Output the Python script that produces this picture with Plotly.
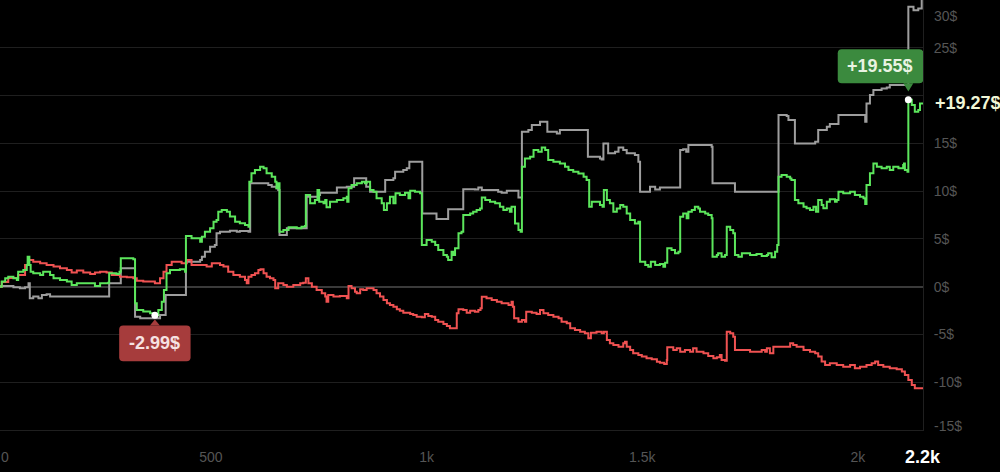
import plotly.graph_objects as go

# ---------------- data ----------------
green_x = [0, 15, 23, 30, 42, 50, 53, 65, 73, 75,
           79, 82, 88, 104, 111, 127, 135, 150, 166, 177,
           189, 231, 243, 262, 264, 281, 288, 291, 320, 324,
           328, 343, 359, 370, 378, 386, 391, 397, 405, 428,
           440, 442, 455, 475, 479, 486, 498, 506, 513, 517,
           525, 537, 544, 556, 567, 579, 587, 589, 594, 602,
           614, 622, 629, 641, 649, 652, 656, 659, 668, 680,
           699, 710, 718, 720, 730, 741, 747, 751, 761, 765,
           768, 776, 792, 807, 815, 816, 819, 826, 838, 850,
           857, 861, 869, 877, 884, 896, 901, 908, 915, 923,
           928, 938, 950, 958, 962, 973, 985, 989, 1000, 1012,
           1020, 1027, 1039, 1047, 1050, 1058, 1062, 1066, 1074, 1081,
           1085, 1101, 1108, 1116, 1124, 1128, 1136, 1147, 1159, 1170,
           1178, 1186, 1193, 1197, 1205, 1213, 1218, 1221, 1228, 1240,
           1248, 1259, 1267, 1275, 1282, 1294, 1309, 1321, 1329, 1340,
           1352, 1364, 1371, 1377, 1383, 1402, 1408, 1411, 1418, 1425,
           1433, 1441, 1449, 1456, 1464, 1472, 1483, 1491, 1495, 1507,
           1514, 1520, 1530, 1541, 1549, 1553, 1558, 1568, 1576, 1584,
           1588, 1595, 1603, 1607, 1615, 1622, 1630, 1634, 1646, 1653,
           1661, 1663, 1673, 1676, 1684, 1692, 1696, 1704, 1711, 1715,
           1723, 1731, 1750, 1765, 1777, 1789, 1792, 1800, 1808, 1813,
           1816, 1823, 1835, 1843, 1846, 1854, 1862, 1874, 1881, 1889,
           1897, 1903, 1908, 1916, 1920, 1928, 1935, 1947, 1951, 1955,
           1966, 1982, 1993, 2005, 2013, 2017, 2020, 2028, 2036, 2044,
           2055, 2067, 2074, 2082, 2094, 2105, 2107, 2109, 2115, 2117,
           2125, 2132, 2140, 2144, 2151]
green_y = [0.0, 0.53, 0.87, 1.05, 0.87, 0.70, 1.57, 1.75, 2.27, 3.14,
           2.27, 1.57, 1.40, 1.22, 1.57, 1.22, 0.87, 0.70, 0.53, 0.18,
           0.35, 0.07, 0.35, 0.42, 1.40, 1.33, 1.57, 2.97, 2.86, -1.74,
           -2.44, -2.61, -2.79, -2.99, -2.44, -1.57, -0.35, 1.40, 1.75, 1.82,
           1.57, 5.30, 5.06, 4.71, 5.23, 5.76, 6.11, 6.80, 6.98, 7.85,
           8.02, 7.85, 7.33, 6.80, 6.63, 6.45, 6.28, 10.99, 11.86, 12.21,
           12.56, 12.38, 11.86, 11.51, 10.99, 10.29, 10.81, 5.76, 5.93, 6.21,
           6.11, 6.28, 6.35, 9.59, 8.72, 9.07, 10.12, 8.89, 8.72, 9.07,
           8.30, 8.89, 9.07, 9.24, 9.42, 8.89, 10.29, 10.64, 10.81, 10.99,
           10.81, 10.99, 10.12, 9.94, 9.24, 8.72, 8.02, 8.72, 9.42, 8.72,
           9.77, 9.59, 9.84, 9.24, 10.05, 9.94, 9.77, 4.36, 4.89, 4.71,
           4.36, 3.84, 3.32, 3.14, 2.79, 3.66, 3.32, 4.01, 5.58, 5.76,
           7.50, 7.67, 7.84, 8.02, 8.19, 9.34, 9.07, 8.89, 8.72, 8.37,
           8.02, 8.19, 7.84, 8.37, 6.62, 5.93, 5.75, 12.55, 13.42, 13.60,
           14.30, 14.12, 14.57, 14.30, 13.25, 13.08, 12.90, 12.55, 12.20, 12.03,
           11.85, 11.51, 11.16, 8.37, 8.89, 8.54, 8.37, 10.11, 9.07, 8.72,
           7.84, 8.19, 8.54, 8.37, 7.67, 6.97, 6.62, 6.80, 2.61, 2.27,
           2.09, 2.61, 2.27, 2.37, 2.09, 2.51, 4.01, 3.84, 3.49, 3.66,
           7.32, 7.67, 7.15, 7.84, 8.02, 8.37, 8.19, 7.85, 7.67, 7.50,
           7.15, 3.14, 3.32, 3.49, 3.14, 3.32, 6.28, 5.93, 5.58, 3.32,
           3.14, 3.49, 3.32, 3.42, 3.21, 3.32, 3.49, 3.07, 3.66, 4.36,
           11.51, 11.68, 11.51, 11.33, 11.16, 9.07, 8.72, 8.37, 8.20, 8.02,
           8.37, 7.85, 9.07, 8.54, 8.20, 8.89, 9.14, 8.89, 9.07, 9.94,
           9.77, 9.94, 9.59, 9.42, 9.24, 8.65, 10.64, 11.86, 12.90, 12.55,
           12.38, 12.55, 12.21, 12.55, 12.38, 12.73, 12.90, 12.21, 12.03, 19.55,
           19.01, 18.31, 18.48, 19.18, 19.27]

gray_x = [0, 42, 57, 69, 77, 80, 88, 100, 108, 119,
          127, 264, 291, 324, 336, 382, 395, 442, 475, 479,
          486, 498, 509, 513, 521, 544, 560, 567, 587, 591,
          633, 641, 652, 656, 659, 676, 722, 749, 753, 792,
          815, 832, 860, 869, 904, 923, 927, 946, 954, 960,
          990, 1023, 1050, 1085, 1112, 1120, 1128, 1166, 1174, 1186,
          1213, 1221, 1236, 1244, 1263, 1280, 1302, 1309, 1374, 1402,
          1406, 1410, 1421, 1437, 1445, 1456, 1464, 1483, 1491, 1495,
          1518, 1530, 1541, 1588, 1595, 1602, 1607, 1661, 1663, 1715,
          1816, 1835, 1839, 1854, 1901, 1908, 1928, 1935, 1955, 2017,
          2020, 2028, 2036, 2055, 2067, 2074, 2117, 2129, 2140, 2148]
gray_y = [0.07, -0.07, -0.17, -0.07, 0.35, -1.22, -1.04, -1.22, -0.87, -0.80,
          -1.04, 0.35, 1.92, -3.14, -3.31, -2.96, -0.87, 2.62, 2.79, 3.14,
          3.66, 4.19, 4.36, 5.58, 5.76, 5.86, 5.76, 5.83, 5.76, 10.81,
          10.64, 10.46, 10.29, 10.12, 5.41, 6.11, 9.42, 9.59, 9.84, 10.39,
          10.46, 11.34, 10.46, 9.94, 11.16, 11.34, 12.03, 12.21, 12.38, 13.08,
          7.67, 7.08, 8.09, 10.19, 10.18, 10.39, 10.11, 9.94, 9.83, 10.04,
          9.34, 16.21, 16.39, 16.91, 17.26, 16.21, 16.04, 16.39, 13.60, 13.42,
          13.32, 14.99, 13.95, 14.12, 14.57, 14.30, 13.95, 13.77, 13.08, 9.94,
          10.46, 10.18, 10.39, 14.30, 14.37, 14.12, 14.82, 14.65, 10.81, 9.94,
          17.96, 17.86, 17.44, 14.99, 15.17, 16.39, 16.74, 17.02, 17.96, 17.26,
          19.18, 20.05, 20.57, 20.75, 20.85, 21.10, 29.29, 28.94, 29.12, 30.4]

red_x = [0, 15, 30, 53, 69, 77, 88, 104, 119, 135,
         150, 166, 177, 189, 204, 220, 231, 243, 258, 270,
         289, 305, 320, 328, 343, 370, 382, 390, 397, 409,
         432, 444, 455, 490, 502, 521, 529, 540, 552, 567,
         579, 583, 587, 594, 602, 610, 615, 622, 629, 637,
         645, 649, 656, 668, 676, 691, 707, 714, 720, 726,
         734, 745, 757, 765, 768, 772, 784, 799, 815, 819,
         826, 834, 838, 846, 853, 861, 877, 884, 892, 900,
         908, 915, 923, 931, 938, 946, 962, 969, 977, 989,
         996, 1004, 1012, 1020, 1027, 1039, 1047, 1054, 1070, 1074,
         1085, 1093, 1101, 1112, 1120, 1125, 1128, 1139, 1151, 1163,
         1174, 1190, 1197, 1200, 1203, 1213, 1221, 1228, 1231, 1244,
         1255, 1263, 1271, 1282, 1294, 1306, 1313, 1325, 1333, 1344,
         1356, 1367, 1375, 1381, 1394, 1406, 1411, 1418, 1425, 1433,
         1445, 1456, 1460, 1464, 1472, 1479, 1491, 1499, 1510, 1522,
         1534, 1541, 1551, 1557, 1558, 1572, 1580, 1588, 1599, 1611,
         1618, 1626, 1642, 1653, 1665, 1673, 1680, 1684, 1692, 1696,
         1704, 1711, 1715, 1750, 1777, 1785, 1789, 1796, 1804, 1843,
         1850, 1858, 1874, 1889, 1901, 1908, 1916, 1924, 1935, 1951,
         1966, 1982, 1993, 2005, 2020, 2032, 2040, 2047, 2059, 2074,
         2090, 2102, 2109, 2117, 2125, 2132, 2151]
red_y = [0.0, 0.5, 0.9, 1.22, 2.27, 2.79, 2.62, 2.44, 2.27, 2.10,
         1.92, 1.75, 1.47, 1.68, 1.47, 1.33, 1.47, 1.57, 1.47, 1.22,
         1.05, 0.98, 0.87, 0.63, 0.53, 0.35, 0.87, 1.57, 2.27, 2.62,
         2.44, 2.79, 2.27, 2.10, 2.44, 2.27, 2.10, 1.57, 1.22, 1.05,
         0.70, 0.35, 1.05, 1.22, 1.40, 1.75, 1.82, 1.40, 1.05, 0.87,
         0.70, -0.17, 0.35, 0.18, 0.0, 0.18, 0.35, 0.42, 0.87, 0.35,
         0.0, -0.35, -0.69, -1.04, -1.57, -0.87, -1.04, -0.97, -1.22, 0.07,
         -0.17, -0.52, -0.69, -0.28, -0.35, -0.17, -0.35, -0.69, -1.04, -1.39,
         -1.74, -1.91, -2.09, -2.37, -2.51, -2.72, -2.86, -2.96, -3.14, -3.21,
         -2.86, -3.07, -3.14, -3.48, -3.66, -3.90, -4.11, -4.36, -2.79, -2.37,
         -2.44, -2.72, -2.51, -2.62, -2.44, -2.27, -1.05, -1.22, -1.40, -1.57,
         -1.74, -1.92, -1.57, -2.09, -3.31, -3.66, -3.49, -3.66, -2.62, -2.72,
         -2.86, -2.44, -2.79, -2.96, -3.14, -3.31, -3.66, -3.84, -4.36, -4.53,
         -4.71, -4.88, -5.41, -4.81, -4.71, -4.88, -4.71, -5.58, -5.93, -6.10,
         -6.28, -5.93, -5.76, -6.28, -6.63, -6.98, -7.15, -7.32, -7.50, -7.60,
         -7.85, -7.95, -8.09, -7.67, -6.35, -6.63, -6.45, -6.80, -6.63, -6.80,
         -6.45, -6.80, -6.97, -7.25, -7.50, -7.39, -7.15, -7.67, -7.74, -4.71,
         -4.88, -5.23, -6.62, -6.80, -6.62, -6.80, -6.45, -6.97, -6.28, -5.93,
         -6.10, -6.28, -6.62, -6.80, -6.97, -7.32, -7.84, -8.19, -8.02, -8.19,
         -8.37, -8.19, -8.54, -8.37, -8.19, -8.02, -7.84, -8.19, -8.37, -8.54,
         -8.65, -8.89, -9.24, -9.76, -10.28, -10.63, -10.74]

assert len(green_x) == len(green_y)
assert len(gray_x) == len(gray_y)
assert len(red_x) == len(red_y)

y_tick_vals = [-15, -10, -5, 0, 5, 10, 15, 20, 25, 30]
y_tick_text = ["", "-10$", "-5$", "0$", "5$", "10$", "15$", "", "25$", ""]
x_tick_vals = [500, 1000, 1500, 2000]
x_tick_text = ["500", "1k", "1.5k", "2k"]

max_label = "+19.55$"
min_label = "-2.99$"
last_label = "+19.27$"
last_x_label = "2.2k"

# markers: the max and min of the green series
i_max = green_y.index(max(green_y))
i_min = green_y.index(min(green_y))
max_pt = (green_x[i_max], green_y[i_max])
min_pt = (green_x[i_min], green_y[i_min])

FONT = "Liberation Sans, Arial, Helvetica, sans-serif"
GREEN = "#5ce65c"
RED = "#f05252"
GRAY = "#9e9e9e"
TICK = "#555555"

fig = go.Figure()
fig.add_trace(go.Scatter(x=gray_x, y=gray_y, mode="lines", line=dict(color=GRAY, width=2, shape="hv"), hoverinfo="skip"))
fig.add_trace(go.Scatter(x=red_x, y=red_y, mode="lines", line=dict(color=RED, width=2, shape="hv"), hoverinfo="skip"))
fig.add_trace(go.Scatter(x=green_x, y=green_y, mode="lines", line=dict(color=GREEN, width=2, shape="hv"), hoverinfo="skip"))
fig.add_trace(go.Scatter(x=[max_pt[0], min_pt[0]], y=[max_pt[1], min_pt[1]], mode="markers",
                         marker=dict(color="white", size=7), hoverinfo="skip"))


def rrect(x0, x1, yb, yt, r):
    return (f"M {x0 + r},{yb} L {x1 - r},{yb} Q {x1},{yb} {x1},{yb + r} "
            f"L {x1},{yt - r} Q {x1},{yt} {x1 - r},{yt} L {x0 + r},{yt} "
            f"Q {x0},{yt} {x0},{yt - r} L {x0},{yb + r} Q {x0},{yb} {x0 + r},{yb} Z")


def tri(yb, ytip):
    return f"M -5,{yb} L 0,{ytip} L 5,{yb} Z"


shapes = []
# green callout (above the max point)
for p in (rrect(-70.6, 15, 16.7, 50.7, 4), tri(16.7, 8.3)):
    shapes.append(dict(type="path", xref="x", yref="y", xsizemode="pixel", ysizemode="pixel",
                       xanchor=max_pt[0], yanchor=max_pt[1], path=p,
                       fillcolor="#3b8a3e", line=dict(width=0), layer="above"))
# red callout (below the min point)
for p in (rrect(-35.7, 35.7, -46, -10.3, 4), tri(-10.3, -4.3)):
    shapes.append(dict(type="path", xref="x", yref="y", xsizemode="pixel", ysizemode="pixel",
                       xanchor=min_pt[0], yanchor=min_pt[1], path=p,
                       fillcolor="#a63c3c", line=dict(width=0), layer="above"))

annotations = [
    dict(x=max_pt[0], y=max_pt[1], xref="x", yref="y", text=f"<b>{max_label}</b>", showarrow=False,
         xshift=-28.3, yshift=33.7, font=dict(family=FONT, size=18, color="#e9f3e2")),
    dict(x=min_pt[0], y=min_pt[1], xref="x", yref="y", text=f"<b>{min_label}</b>", showarrow=False,
         xshift=0, yshift=-28.2, font=dict(family=FONT, size=18, color="#f6e2e2")),
    dict(x=1, y=green_y[-1], xref="paper", yref="y", text=f"<b>{last_label}</b>", showarrow=False,
         xanchor="left", xshift=10, bgcolor="black", borderpad=1,
         font=dict(family=FONT, size=18, color="#f1f6d6")),
    dict(x=1, y=30, xref="paper", yref="y", text="30$", showarrow=False, xanchor="left",
         xshift=9, yshift=-16, font=dict(family=FONT, size=14, color=TICK)),
    dict(x=1, y=-15, xref="paper", yref="y", text="-15$", showarrow=False, xanchor="left",
         xshift=9, yshift=4.5, font=dict(family=FONT, size=14, color=TICK)),
    dict(x=0, y=0, xref="paper", yref="paper", text="0", showarrow=False, xanchor="left",
         yanchor="middle", xshift=-1, yshift=-26.5, font=dict(family=FONT, size=14, color=TICK)),
    dict(x=1, y=0, xref="paper", yref="paper", text=f"<b>{last_x_label}</b>", showarrow=False,
         xanchor="center", yanchor="middle", yshift=-26.5, font=dict(family=FONT, size=18, color="white")),
]

fig.update_layout(
    width=1000, height=472,
    margin=dict(l=0, r=77, t=0, b=42, pad=0, autoexpand=False),
    paper_bgcolor="black", plot_bgcolor="black",
    showlegend=False,
    shapes=shapes, annotations=annotations,
    font=dict(family=FONT, size=14, color=TICK),
    xaxis=dict(range=[10.9, 2151], tickvals=x_tick_vals, ticktext=x_tick_text,
               showgrid=False, zeroline=False, showline=True, linecolor="#1f1f1f", linewidth=1,
               ticks="", ticklabelstandoff=14, tickfont=dict(family=FONT, size=14, color=TICK)),
    yaxis=dict(range=[-15, 30], side="right", tickvals=y_tick_vals, ticktext=y_tick_text,
               showgrid=True, gridcolor="#1f1f1f", gridwidth=1,
               zeroline=True, zerolinecolor="#3a3a3a", zerolinewidth=2,
               showline=True, linecolor="#1f1f1f", linewidth=1,
               ticks="", ticklabelstandoff=7, tickfont=dict(family=FONT, size=14, color=TICK)),
)

fig.write_html("out.html", config={"displayModeBar": False},
               post_script="document.body.style.margin='0';document.body.style.background='black';")
